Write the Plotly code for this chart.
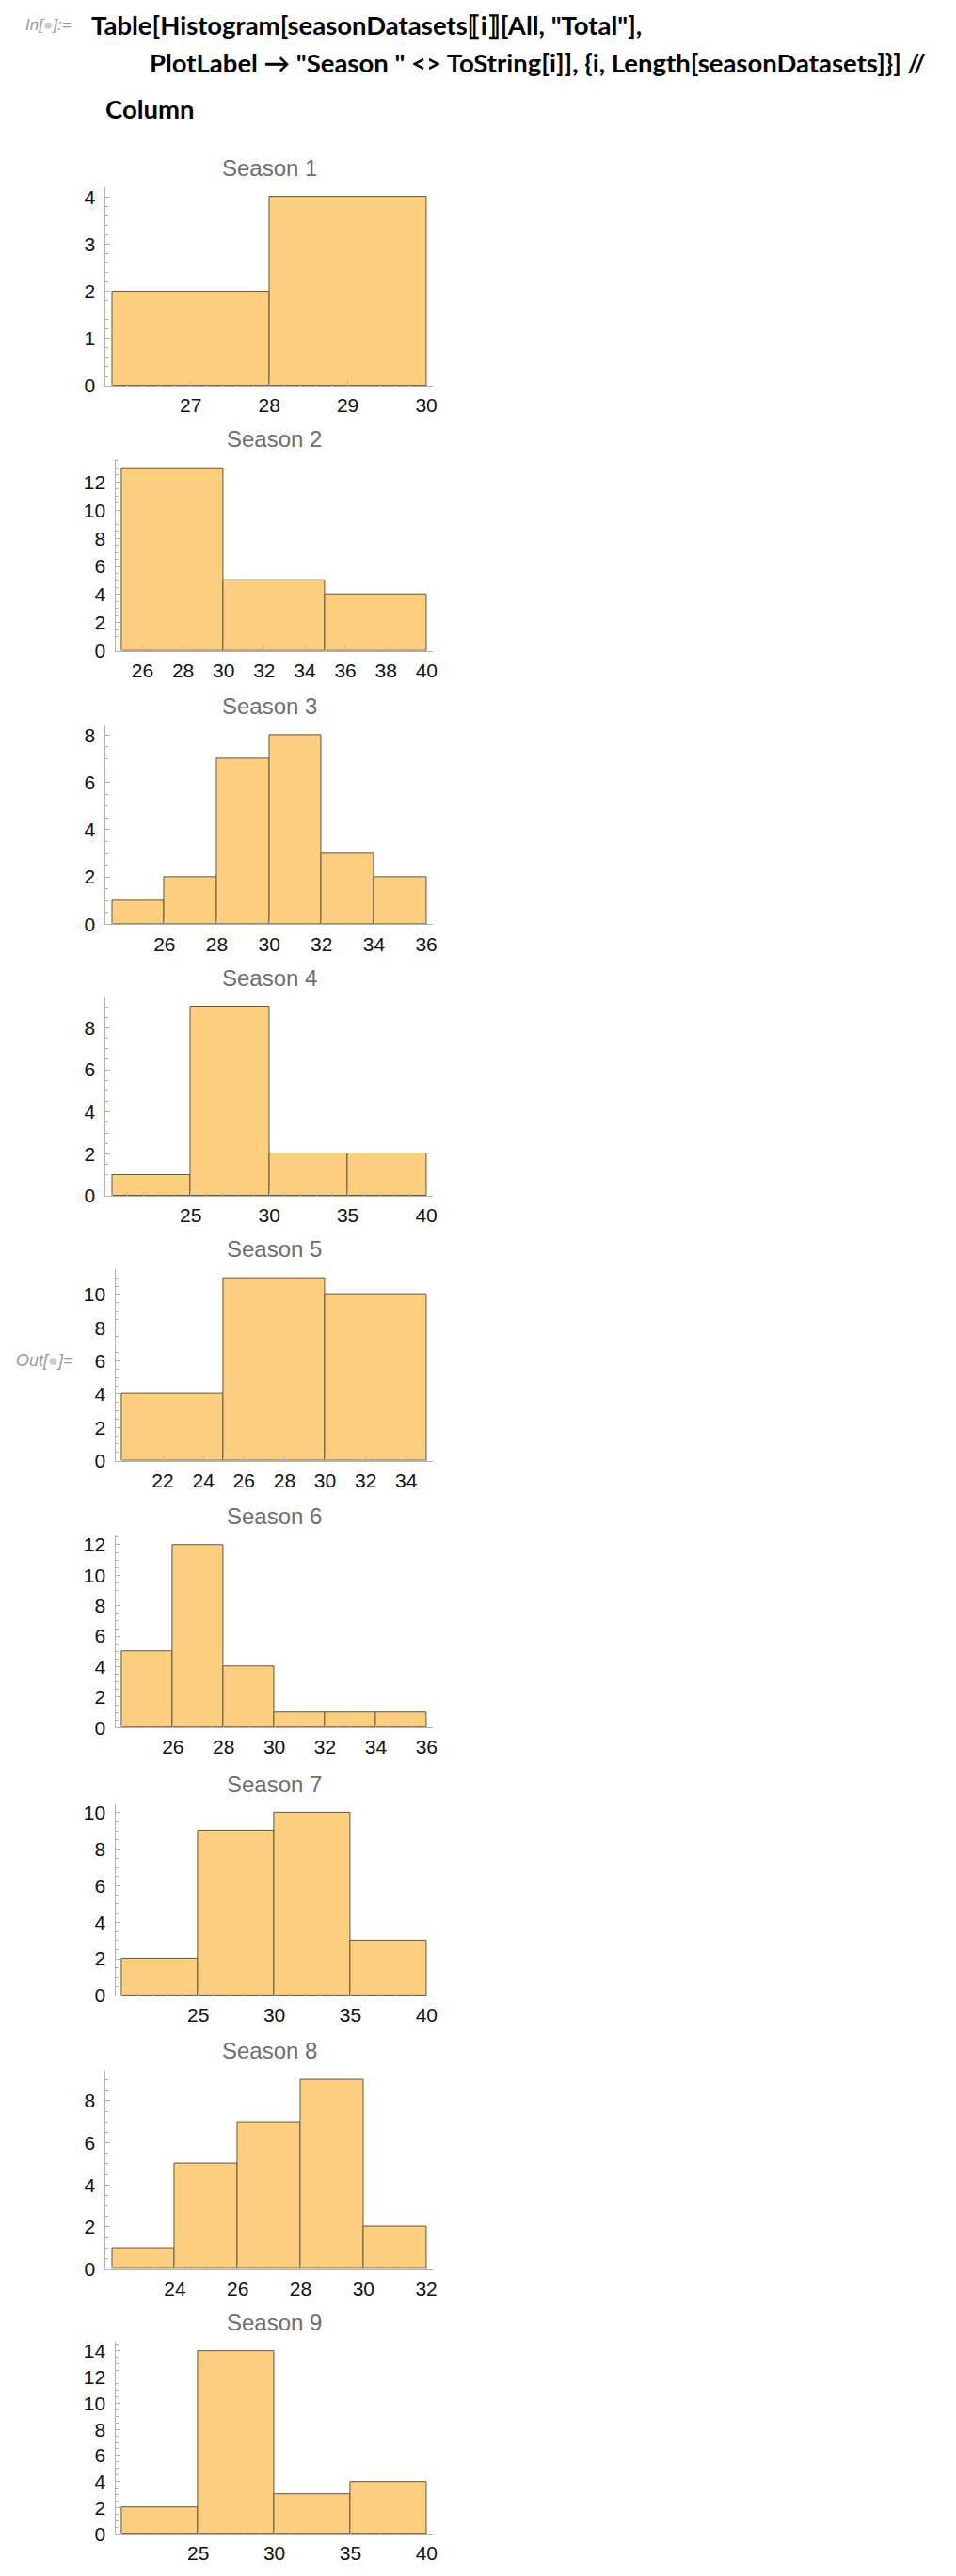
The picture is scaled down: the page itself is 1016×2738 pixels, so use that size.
import plotly.graph_objects as go

W, H = 1016, 2738

# bin edges, counts and labelled x ticks for each season histogram
s1_edges = [26, 28, 30]
s1_counts = [2, 4]
s1_xticks = [27, 28, 29, 30]

s2_edges = [25, 30, 35, 40]
s2_counts = [13, 5, 4]
s2_xticks = [26, 28, 30, 32, 34, 36, 38, 40]

s3_edges = [24, 26, 28, 30, 32, 34, 36]
s3_counts = [1, 2, 7, 8, 3, 2]
s3_xticks = [26, 28, 30, 32, 34, 36]

s4_edges = [20, 25, 30, 35, 40]
s4_counts = [1, 9, 2, 2]
s4_xticks = [25, 30, 35, 40]

s5_edges = [20, 25, 30, 35]
s5_counts = [4, 11, 10]
s5_xticks = [22, 24, 26, 28, 30, 32, 34]

s6_edges = [24, 26, 28, 30, 32, 34, 36]
s6_counts = [5, 12, 4, 1, 1, 1]
s6_xticks = [26, 28, 30, 32, 34, 36]

s7_edges = [20, 25, 30, 35, 40]
s7_counts = [2, 9, 10, 3]
s7_xticks = [25, 30, 35, 40]

s8_edges = [22, 24, 26, 28, 30, 32]
s8_counts = [1, 5, 7, 9, 2]
s8_xticks = [24, 26, 28, 30, 32]

s9_edges = [20, 25, 30, 35, 40]
s9_counts = [2, 14, 3, 4]
s9_xticks = [25, 30, 35, 40]

titles = ["Season 1", "Season 2", "Season 3", "Season 4", "Season 5",
          "Season 6", "Season 7", "Season 8", "Season 9"]

seasons = [
    (s1_edges, s1_counts, s1_xticks),
    (s2_edges, s2_counts, s2_xticks),
    (s3_edges, s3_counts, s3_xticks),
    (s4_edges, s4_counts, s4_xticks),
    (s5_edges, s5_counts, s5_xticks),
    (s6_edges, s6_counts, s6_xticks),
    (s7_edges, s7_counts, s7_xticks),
    (s8_edges, s8_counts, s8_xticks),
    (s9_edges, s9_counts, s9_xticks),
]

# pixel row of each plot's x axis (page is one long column of graphics)
zero_px = [402, 685, 977, 1267, 1550, 1835, 2121, 2413, 2696]
RIGHT_PX = 454

BAR_FILL = "#FCCF80"
BAR_EDGE = "#66573a"
AXIS_COL = "#b3b3b3"
TICK_FONT = dict(family="Liberation Sans, Arial, sans-serif", size=21, color="#111")

fig = go.Figure()
annotations = []
layout = {}

for i, (edges, counts, xticks) in enumerate(seasons):
    n = i + 1
    sfx = "" if n == 1 else str(n)
    centers = [(a + b) / 2 for a, b in zip(edges[:-1], edges[1:])]
    widths = [b - a for a, b in zip(edges[:-1], edges[1:])]

    fig.add_trace(go.Bar(
        x=centers, y=counts, width=widths,
        marker=dict(color=BAR_FILL, line=dict(color=BAR_EDGE, width=1)),
        xaxis="x" + sfx, yaxis="y" + sfx, showlegend=False,
        hoverinfo="skip",
    ))

    big = max(counts) >= 10
    left_px = 116 if big else 105
    h_px = 205 if big else 212
    bottom = 1 - zero_px[i] / H
    top = 1 - (zero_px[i] - h_px) / H

    lo, hi = edges[0], edges[-1]
    pad = 0.02 * (hi - lo)
    xstep = xticks[1] - xticks[0]
    xminor = {1: 0.2, 2: 0.5, 5: 1}[xstep]
    ystep = 1 if max(counts) <= 5 else 2
    yminor = 0.2 if ystep == 1 else 0.5

    layout["xaxis" + sfx] = dict(
        domain=[left_px / W, RIGHT_PX / W], anchor="y" + sfx,
        range=[lo - pad, hi + pad],
        tickmode="array", tickvals=xticks,
        ticks="inside", ticklen=5, tickcolor=AXIS_COL, tickwidth=1,
        minor=dict(ticks="inside", ticklen=2.5, tickmode="linear", tick0=0,
                   dtick=xminor, tickcolor=AXIS_COL, showgrid=False),
        showline=True, linecolor=AXIS_COL, linewidth=1,
        showgrid=False, zeroline=False, tickfont=TICK_FONT,
        ticklabelstandoff=2, fixedrange=True,
    )
    layout["yaxis" + sfx] = dict(
        domain=[bottom, top], anchor="x" + sfx,
        range=[0, max(counts) * 1.05],
        tickmode="linear", tick0=0, dtick=ystep,
        ticks="inside", ticklen=5, tickcolor=AXIS_COL, tickwidth=1,
        minor=dict(ticks="inside", ticklen=2.5, tickmode="linear", tick0=0,
                   dtick=yminor, tickcolor=AXIS_COL, showgrid=False),
        showline=True, linecolor=AXIS_COL, linewidth=1,
        showgrid=False, zeroline=False, tickfont=TICK_FONT,
        ticklabelstandoff=6, fixedrange=True,
    )

    annotations.append(dict(
        text=titles[i], xref="paper", yref="paper",
        x=(left_px + RIGHT_PX) / 2 / W, y=1 - (zero_px[i] - h_px - 21) / H,
        xanchor="center", yanchor="middle", showarrow=False,
        font=dict(family="Liberation Sans, Arial, sans-serif", size=24, color="#6e6e6e"),
    ))

CODE_FONT = dict(family="Lato, sans-serif", size=27.5, color="#000")

code_lines = [
    (87, 17, "<b>Table[Histogram[seasonDatasets⟦i⟧[All, \"Total\"],</b>"),
    (150, 57, "<b>PlotLabel → \"Season \" <> ToString[i]], {i, Length[seasonDatasets]}] //</b>"),
    (103, 106, "<b>Column</b>"),
]
for x_px, y_px, txt in code_lines:
    annotations.append(dict(
        text=txt, xref="paper", yref="paper", x=x_px / W, y=1 - y_px / H,
        xanchor="left", yanchor="middle", showarrow=False, font=CODE_FONT,
    ))

annotations.append(dict(
    text="<i>In[<span style='color:#cccccc'>●</span>]:=</i>", xref="paper", yref="paper",
    x=17 / W, y=1 - 17 / H, xanchor="left", yanchor="middle", showarrow=False,
    font=dict(family="Liberation Sans, Arial, sans-serif", size=17, color="#9a9a9a"),
))
annotations.append(dict(
    text="<i>Out[<span style='color:#cccccc'>●</span>]=</i>", xref="paper", yref="paper",
    x=7 / W, y=1 - 1443 / H, xanchor="left", yanchor="middle", showarrow=False,
    font=dict(family="Liberation Sans, Arial, sans-serif", size=18, color="#9a9a9a"),
))

fig.update_layout(
    width=W, height=H, autosize=False,
    margin=dict(l=0, r=0, t=0, b=0),
    paper_bgcolor="white", plot_bgcolor="white",
    bargap=0, annotations=annotations, showlegend=False,
    **layout,
)

fig.write_html("out.html", config={"displayModeBar": False})
